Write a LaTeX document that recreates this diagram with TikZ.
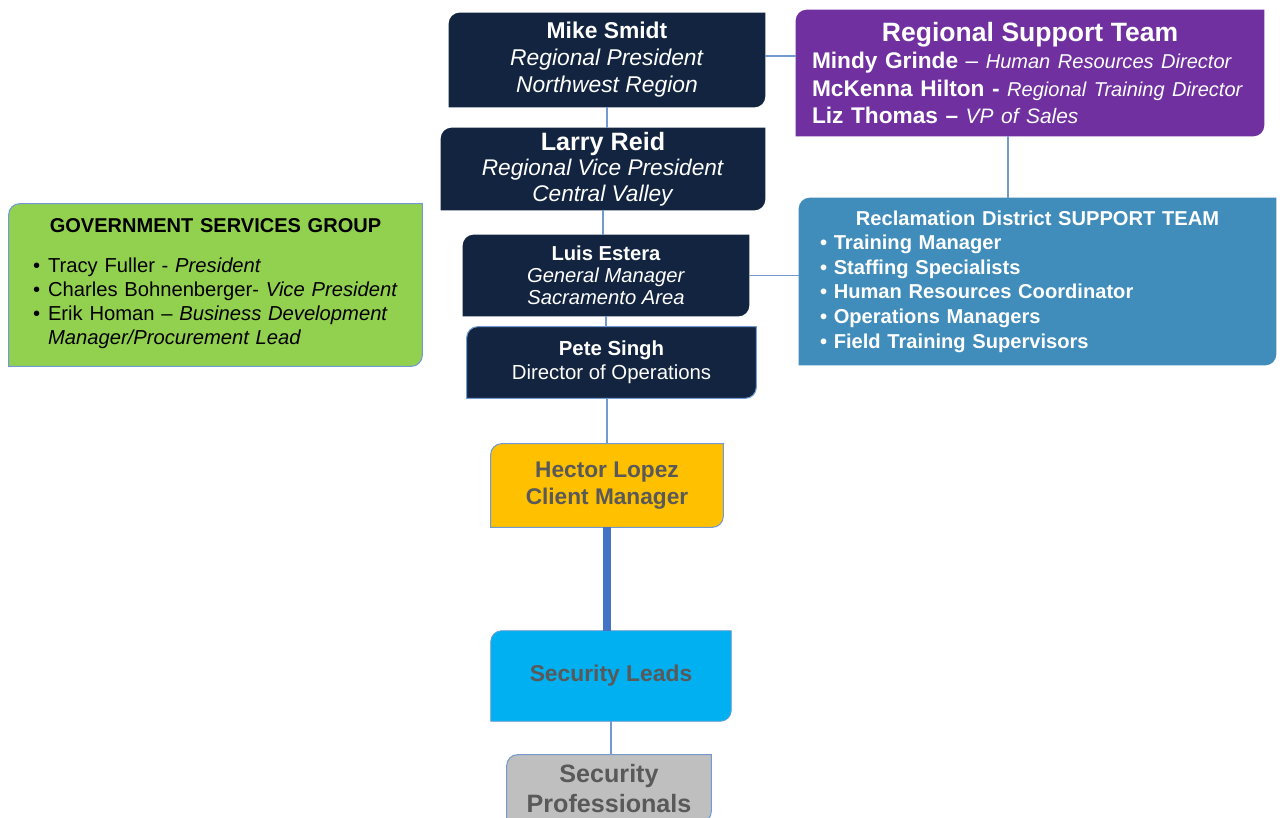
\documentclass[tikz,border=0pt]{standalone}
\usepackage{fontspec}
\setmainfont{Liberation Sans}
\usetikzlibrary{positioning,calc,backgrounds}

\definecolor{navybox}{RGB}{18,36,63}
\definecolor{purplebox}{RGB}{112,48,160}
\definecolor{steelbox}{RGB}{64,140,187}
\definecolor{greenbox}{RGB}{146,208,80}
\definecolor{goldbox}{RGB}{255,192,0}
\definecolor{cyanbox}{RGB}{0,176,240}
\definecolor{greybox}{RGB}{191,191,191}
\definecolor{greytext}{RGB}{89,89,89}
\definecolor{linkblue}{RGB}{114,154,209}
\definecolor{thickblue}{RGB}{68,114,196}

\newcommand{\fs}[2]{\fontsize{#1}{#2}\selectfont}
\newlength{\crad}
\setlength{\crad}{0.22cm}
% fill with top-left and bottom-right corners rounded
\newcommand{\diagfill}[2]{%
  \path[#2] ([yshift=-\crad]#1.north west) arc[start angle=180, end angle=90, radius=\crad]
    -- (#1.north east) -- ([yshift=\crad]#1.south east)
    arc[start angle=0, end angle=-90, radius=\crad] -- (#1.south west) -- cycle;}

\begin{document}
\begin{tikzpicture}[
    x=0.02cm, y=0.02cm,
    card/.style={rectangle, inner sep=0pt, align=center, text=white},
    conn/.style={draw=linkblue, line width=0.8pt},
    thickconn/.style={draw=thickblue, line width=4.5pt}
]
    \useasboundingbox (0,0) rectangle (1282,-818);

    % Regional President
    \node[card, minimum width=6.32cm, minimum height=1.88cm, font=\fs{13}{15.4}] (mike) at (607,-60)
        {\textbf{Mike Smidt}\\\textit{Regional President}\\\textit{Northwest Region}};

    % Regional Vice President
    \node[card, minimum width=6.48cm, minimum height=1.64cm, font=\fs{12.9}{14.4}] (larry) at (603,-169)
        {{\fs{14.3}{15}\bfseries Larry Reid}\\\textit{Regional Vice President}\\\textit{Central Valley}};

    % General Manager
    \node[card, minimum width=5.72cm, minimum height=1.62cm, font=\fs{11.5}{12.5}] (luis) at (606,-275.5)
        {{\fs{11.5}{12.5}\bfseries Luis Estera}\\\textit{General Manager}\\\textit{Sacramento Area}};

    % Director of Operations
    \node[card, minimum width=5.78cm, minimum height=1.42cm, font=\fs{11.6}{13.7}] (pete) at (611.5,-362.5)
        {{\bfseries Pete Singh}\\Director of Operations};

    % Client Manager
    \node[card, text=greytext, minimum width=4.64cm, minimum height=1.66cm, font=\fs{12.9}{15.4}\bfseries] (hector) at (607,-485.5)
        {Hector Lopez\\Client Manager};

    % Security Leads
    \node[card, text=greytext, minimum width=4.8cm, minimum height=1.8cm, font=\fs{13}{16}\bfseries] (leads) at (611,-676)
        {Security Leads};

    % Security Professionals
    \node[card, text=greytext, minimum width=4.08cm, minimum height=1.34cm, font=\fs{14.3}{17.6}\bfseries] (pros) at (609,-788.5)
        {Security\\Professionals};

    % Regional Support Team
    \node[card, align=left, text width=8.72cm, minimum width=9.36cm, minimum height=2.52cm, font=\fs{12.9}{15.4}] (purple) at (1030,-73)
        {{\centering\fs{15.1}{15.4}\bfseries Regional Support Team\par}
         \textbf{Mindy Grinde} -- {\fs{11.4}{15.4}\itshape Human Resources Director}\\
         \textbf{McKenna Hilton -} {\fs{11.4}{15.4}\itshape Regional Training Director}\\
         \textbf{Liz Thomas --} {\fs{11.9}{15.4}\itshape VP of Sales}};

    % District support team
    \node[card, align=left, text width=8.7cm, minimum width=9.54cm, minimum height=3.34cm, font=\fs{11.45}{14}\bfseries] (blue) at (1037.5,-281.5)
        {{\centering Reclamation District SUPPORT TEAM\par}
         • Training Manager\\
         • Staffing Specialists\\
         • Human Resources Coordinator\\
         • Operations Managers\\
         • Field Training Supervisors};

    % Government services group
    \node[card, align=left, text=black, text width=7.3cm, minimum width=8.26cm, minimum height=3.24cm, font=\fs{11.5}{13.7}] (green) at (215.5,-285)
        {{\centering\fs{11.4}{12}\bfseries GOVERNMENT SERVICES GROUP\par}
         \vspace{12pt}
         \begin{tabular}{@{}l@{\hspace{4.5pt}}l@{}}
         • & Tracy Fuller - \textit{President}\\
         • & Charles Bohnenberger- \textit{Vice President}\\
         • & Erik Homan -- \textit{Business Development}\\
           & \textit{Manager/Procurement Lead}
         \end{tabular}};

    % Box fills
    \begin{pgfonlayer}{background}
        \diagfill{mike}{fill=navybox}
        \diagfill{larry}{fill=navybox}
        \diagfill{luis}{fill=navybox}
        \diagfill{pete}{fill=navybox, draw=linkblue, line width=0.6pt}
        \diagfill{hector}{fill=goldbox, draw=linkblue, line width=0.6pt}
        \diagfill{leads}{fill=cyanbox, draw=linkblue, line width=0.4pt}
        \diagfill{pros}{fill=greybox, draw=linkblue, line width=0.6pt}
        \diagfill{purple}{fill=purplebox}
        \diagfill{blue}{fill=steelbox}
        \diagfill{green}{fill=greenbox, draw=linkblue, line width=0.6pt}
    \end{pgfonlayer}

    % Connectors
    \draw[conn] (mike.south) -- (mike.south |- larry.north);
    \draw[conn] (larry.south) -- (larry.south |- luis.north);
    \draw[conn] (luis.south) -- (luis.south |- pete.north);
    \draw[conn] (hector.north |- pete.south) -- (hector.north);
    \draw[thickconn] (hector.south) -- (hector.south |- leads.north);
    \draw[conn] (leads.south) -- (leads.south |- pros.north);
    \coordinate (mside) at ([yshift=0.08cm]mike.east);
    \draw[conn] (mside) -- (mside -| purple.west);
    \coordinate (pdrop) at ([xshift=-0.44cm]purple.south);
    \draw[conn] (pdrop) -- (pdrop |- blue.north);
    \draw[conn] (luis.east) -- (luis.east -| blue.west);
\end{tikzpicture}
\end{document}
